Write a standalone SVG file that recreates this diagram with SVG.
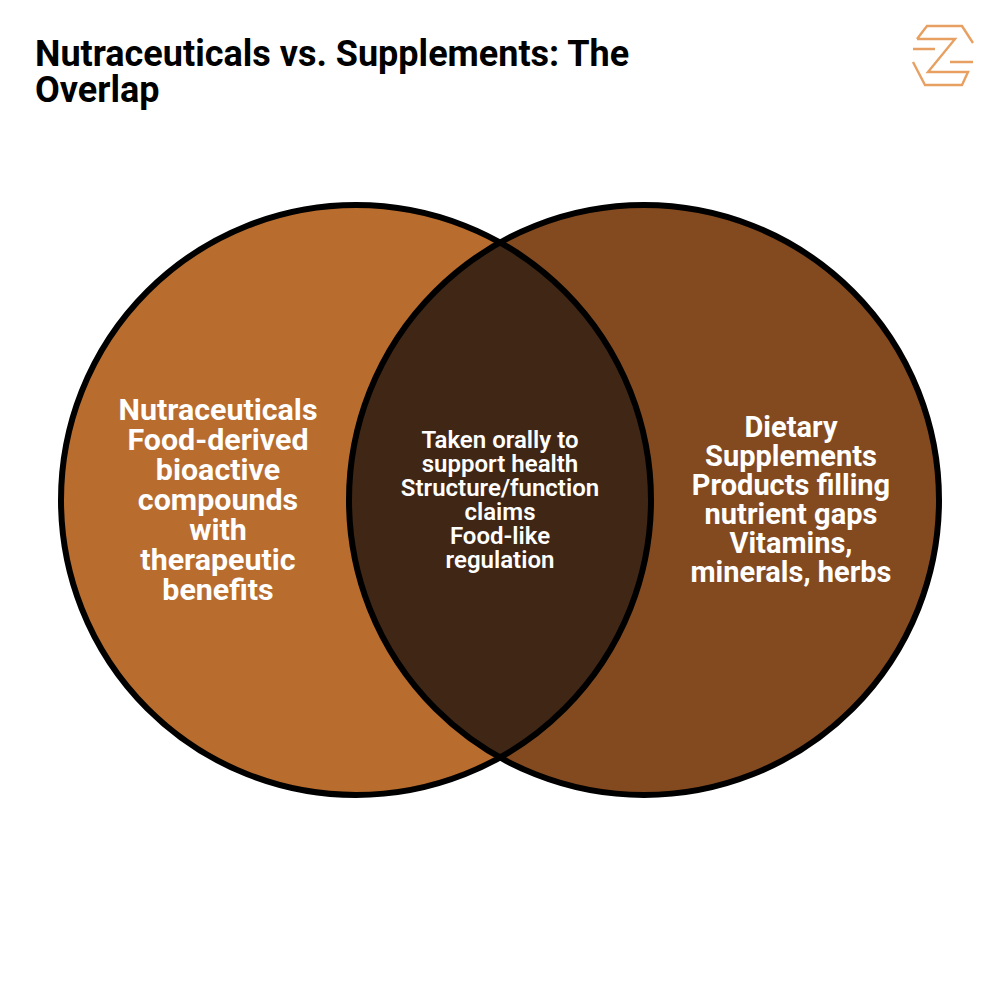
<svg xmlns="http://www.w3.org/2000/svg" width="1000" height="1000" viewBox="0 0 1000 1000">
<style>
text{font-family:Roboto,"Liberation Sans",sans-serif;fill:#fff;text-anchor:middle}
.t{fill:#000;text-anchor:start;font-size:36px;font-weight:700}
.a{font-size:30.4px;font-weight:700}
.s{font-size:29px;font-weight:700}
.m{font-size:24px;font-weight:600}
.o{fill:none;stroke:#000;stroke-width:6}
.l{fill:none;stroke:#e8a062;stroke-width:2.4}
</style>
<defs><clipPath id="c"><circle cx="356" cy="500" r="295"/></clipPath></defs>
<rect width="1000" height="1000" fill="#fff"/>
<g id="title"><text class="t" x="35" y="66">Nutraceuticals vs. Supplements: The</text><text class="t" x="35" y="102">Overlap</text></g>
<g id="logo"><path class="l" d="M917 39L927 26H962L973 43M917 39H955L928 72H968L962 85H925L913 62M913 49H935M950 62H973"/></g>
<g id="left"><circle cx="356" cy="500" r="295" fill="#b86c2e"/></g>
<g id="right"><circle cx="644" cy="500" r="295" fill="#834a20"/></g>
<g id="overlap"><circle cx="644" cy="500" r="295" fill="#402615" clip-path="url(#c)"/></g>
<g id="outlines"><circle class="o" cx="356" cy="500" r="295"/><circle class="o" cx="644" cy="500" r="295"/></g>
<g id="left-text" class="a"><text x="218" y="420">Nutraceuticals</text><text x="218" y="450">Food-derived</text><text x="218" y="480">bioactive</text><text x="218" y="510">compounds</text><text x="218" y="540">with</text><text x="218" y="570">therapeutic</text><text x="218" y="600">benefits</text></g>
<g id="mid-text" class="m"><text x="500" y="448">Taken orally to</text><text x="500" y="472">support health</text><text x="500" y="496">Structure/function</text><text x="500" y="520">claims</text><text x="500" y="544">Food-like</text><text x="500" y="568">regulation</text></g>
<g id="right-text" class="s"><text x="791" y="437">Dietary</text><text x="791" y="466">Supplements</text><text x="791" y="495">Products filling</text><text x="791" y="524">nutrient gaps</text><text x="791" y="553">Vitamins,</text><text x="791" y="582">minerals, herbs</text></g>
</svg>
